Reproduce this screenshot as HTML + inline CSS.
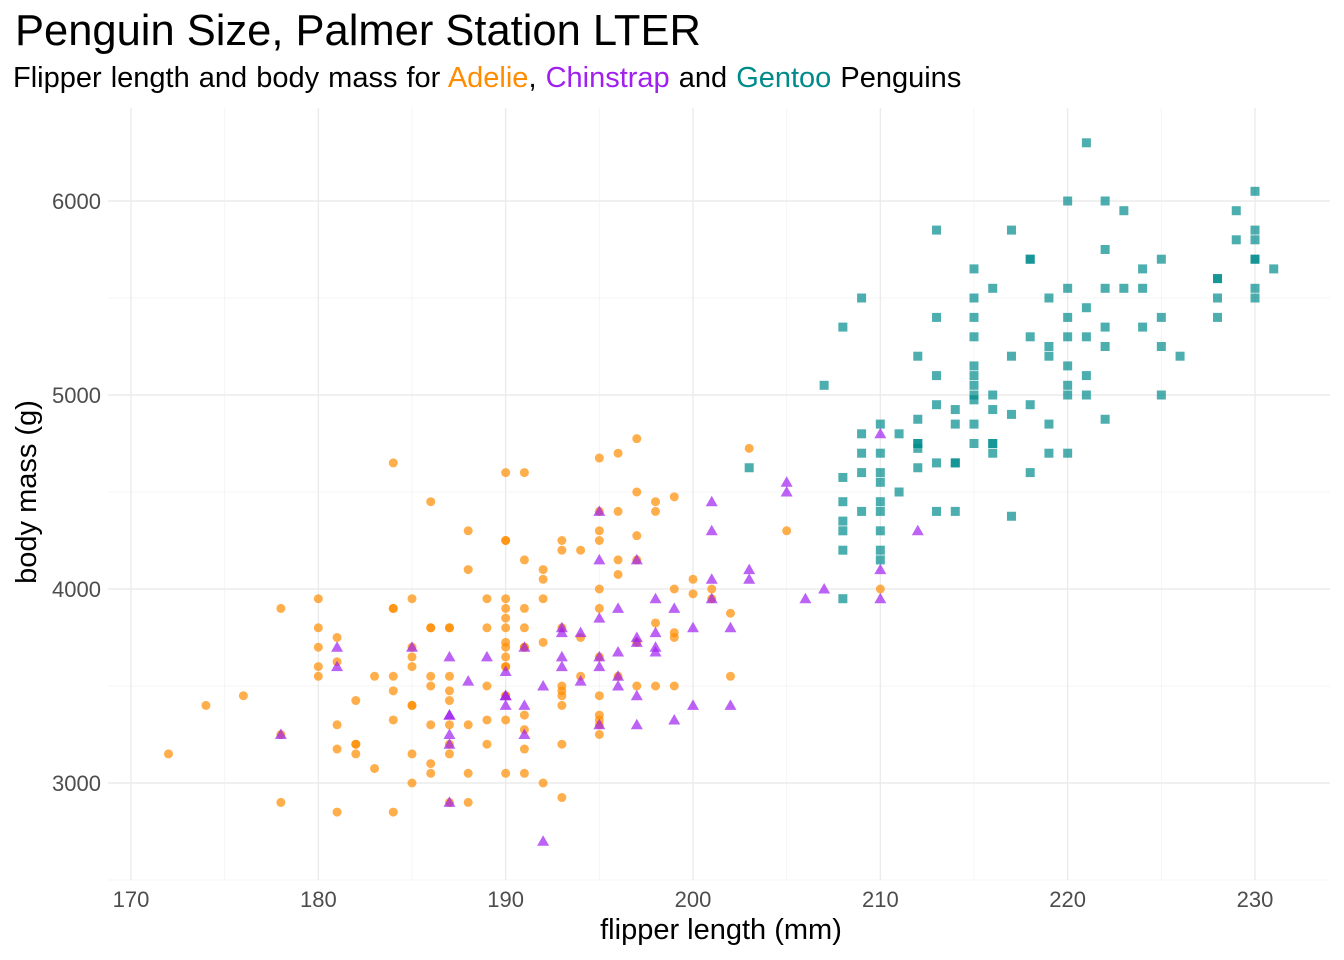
<!DOCTYPE html>
<html><head><meta charset="utf-8">
<style>
html,body{margin:0;padding:0;background:#fff;}
svg{display:block;font-family:"Liberation Sans",sans-serif;}
</style></head>
<body>
<svg id="chart" width="1344" height="960">
<text x="15" y="45" font-size="43.5" fill="#000">Penguin Size, Palmer Station LTER</text>
<text x="13" y="87" font-size="29" word-spacing="1" fill="#000">Flipper length and body mass for <tspan fill="#FF8C00">Adelie</tspan>, <tspan fill="#A020F0">Chinstrap</tspan> and <tspan fill="#008B8B">Gentoo</tspan> Penguins</text>
<g id="grid"></g>
<g id="marks"></g>
<g id="axes"></g>
<text x="721" y="939" font-size="29" text-anchor="middle">flipper length (mm)</text>
<text transform="translate(36,492) rotate(-90)" font-size="29" text-anchor="middle">body mass (g)</text>
</svg>
<script>
const xTicks=[170,180,190,200,210,220,230];
const yTicks=[3000,4000,5000,6000];
const xMinor=[175,185,195,205,215,225];
const yMinor=[2500,3500,4500,5500];
const adelie=[[181,3750],[186,3800],[195,3250],[193,3450],[190,3650],[181,3625],[195,4675],[193,3475],[190,4250],[186,3300],[180,3700],[182,3200],[191,3800],[198,4400],[185,3700],[195,3450],[197,4500],[184,3325],[194,4200],[174,3400],[180,3600],[189,3800],[185,3950],[180,3800],[187,3800],[183,3550],[187,3200],[172,3150],[180,3950],[178,3250],[178,3900],[188,3300],[184,3900],[195,3325],[196,4150],[190,3950],[180,3550],[181,3300],[184,4650],[182,3150],[195,3900],[186,3100],[196,4400],[185,3000],[190,4600],[182,3425],[190,3450],[191,4150],[186,3500],[188,4300],[190,3450],[200,4050],[187,2900],[191,3700],[186,3550],[193,3800],[181,2850],[194,3750],[185,3150],[195,4400],[185,3600],[192,4050],[184,2850],[192,3950],[195,3350],[188,4100],[190,3050],[198,4450],[190,3600],[190,3900],[196,3550],[197,4150],[190,3700],[195,4250],[191,3700],[184,3900],[187,3550],[195,4000],[189,3200],[196,4700],[187,3800],[193,4200],[191,3350],[194,3550],[190,3800],[189,3500],[189,3950],[190,3600],[202,3550],[205,4300],[185,3400],[186,4450],[187,3300],[210,4000],[203,4725],[197,4775],[199,4475],[199,4000],[198,3500],[197,3500],[201,4000],[201,3950],[202,3875],[200,3975],[199,3775],[196,4075],[193,2925],[192,3000],[191,3050],[188,2900],[178,2900],[186,3050],[182,3200],[181,3175],[183,3075],[185,3650],[185,3400],[184,3475],[184,3550],[187,3475],[187,3425],[188,3050],[189,3325],[190,3325],[191,3275],[191,3175],[193,3200],[193,3400],[193,3500],[195,3300],[197,4275],[195,4300],[193,4250],[192,4100],[191,3900],[190,3725],[190,3850],[192,3725],[195,3650],[198,3825],[199,3750],[197,3725],[176,3450],[191,4600],[190,4250],[186,3800],[187,3150],[199,3500]];
const chinstrap=[[178,3250],[181,3700],[181,3600],[185,3700],[187,2900],[187,3200],[187,3250],[187,3350],[187,3650],[188,3525],[189,3650],[190,3450],[190,3400],[190,3575],[191,3700],[191,3400],[191,3250],[192,2700],[192,3500],[193,3600],[193,3650],[193,3775],[193,3800],[194,3525],[194,3775],[195,3300],[195,3600],[195,3650],[195,3850],[195,4150],[195,4400],[196,3500],[196,3550],[196,3675],[196,3900],[197,3300],[197,3450],[197,3725],[197,3750],[197,4150],[198,3675],[198,3700],[198,3775],[198,3950],[199,3325],[199,3900],[200,3400],[200,3800],[201,3950],[201,4050],[201,4300],[201,4450],[202,3400],[202,3800],[203,4050],[203,4100],[205,4500],[205,4550],[206,3950],[207,4000],[210,3950],[210,4100],[210,4800],[212,4300],[190,3450],[187,3350]];
const gentoo=[[203,4625],[207,5050],[208,5350],[208,4575],[208,4450],[208,4350],[208,4300],[208,4200],[208,3950],[209,5500],[209,4800],[209,4700],[209,4600],[209,4400],[210,4850],[210,4700],[210,4600],[210,4550],[210,4450],[210,4400],[210,4300],[210,4200],[210,4150],[211,4800],[211,4500],[212,5200],[212,4875],[212,4750],[212,4725],[212,4625],[213,5850],[213,5400],[213,5100],[213,4950],[213,4650],[213,4400],[214,4925],[214,4850],[214,4650],[214,4400],[215,5650],[215,5500],[215,5400],[215,5300],[215,5150],[215,5100],[215,5050],[215,5000],[215,4975],[215,4850],[215,4750],[216,5550],[216,5000],[216,4925],[216,4750],[216,4700],[217,5850],[217,5200],[217,4900],[217,4375],[218,5700],[218,5300],[218,4950],[218,4600],[219,5500],[219,5250],[219,5200],[219,4850],[219,4700],[220,6000],[220,5550],[220,5400],[220,5300],[220,5150],[220,5050],[220,5000],[220,4700],[221,6300],[221,5450],[221,5300],[221,5100],[221,5000],[222,6000],[222,5750],[222,5550],[222,5350],[222,5250],[222,4875],[223,5950],[223,5550],[224,5650],[224,5550],[224,5350],[225,5700],[225,5400],[225,5250],[225,5000],[226,5200],[228,5600],[228,5500],[228,5400],[229,5950],[229,5800],[230,6050],[230,5850],[230,5800],[230,5700],[230,5550],[230,5500],[231,5650],[218,5700],[212,4750],[216,4750],[214,4650],[230,5700],[228,5600]];

const NS='http://www.w3.org/2000/svg';
const L=108,R=1330,T=108,B=880;
const xs=v=>131+(v-170)*(1255-131)/60;
const ys=v=>783-(v-3000)*(783-201)/3000;
function mk(tag,attrs,parent){const e=document.createElementNS(NS,tag);for(const k in attrs)e.setAttribute(k,attrs[k]);parent.appendChild(e);return e;}
const grid=document.getElementById('grid'),marks=document.getElementById('marks'),axes=document.getElementById('axes');
xMinor.forEach(v=>{const l=mk('line',{x1:xs(v),x2:xs(v),y1:T,y2:B,stroke:'#f2f2f2','stroke-width':0.8},grid);

});
yMinor.forEach(v=>{if(ys(v)<T||ys(v)>B)return;const l=mk('line',{x1:L,x2:R,y1:ys(v),y2:ys(v),stroke:'#f2f2f2','stroke-width':0.8},grid);

});
xTicks.forEach(v=>{const l=mk('line',{x1:xs(v),x2:xs(v),y1:T,y2:B,stroke:'#ebebeb','stroke-width':1.4},grid);


const t=mk('text',{x:xs(v),y:907,'font-size':22,fill:'#4d4d4d','text-anchor':'middle'},axes);t.textContent=v;

});
yTicks.forEach(v=>{const l=mk('line',{x1:L,x2:R,y1:ys(v),y2:ys(v),stroke:'#ebebeb','stroke-width':1.4},grid);


const t=mk('text',{x:101,y:ys(v)+8,'font-size':22,fill:'#4d4d4d','text-anchor':'end'},axes);t.textContent=v;

});
adelie.forEach(d=>{const c=mk('circle',{cx:xs(d[0]),cy:ys(d[1]),r:4.5,fill:'#FF8C00','fill-opacity':0.7},marks);

});
chinstrap.forEach(d=>{const x=xs(d[0]),y=ys(d[1]);const p=mk('polygon',{points:`${x},${y-6} ${x-6},${y+4.5} ${x+6},${y+4.5}`,fill:'#A020F0','fill-opacity':0.7},marks);

});
gentoo.forEach(d=>{const r=mk('rect',{x:xs(d[0])-4.5,y:ys(d[1])-4.5,width:9,height:9,fill:'#008B8B','fill-opacity':0.7},marks);

});
</script>
</body></html>
